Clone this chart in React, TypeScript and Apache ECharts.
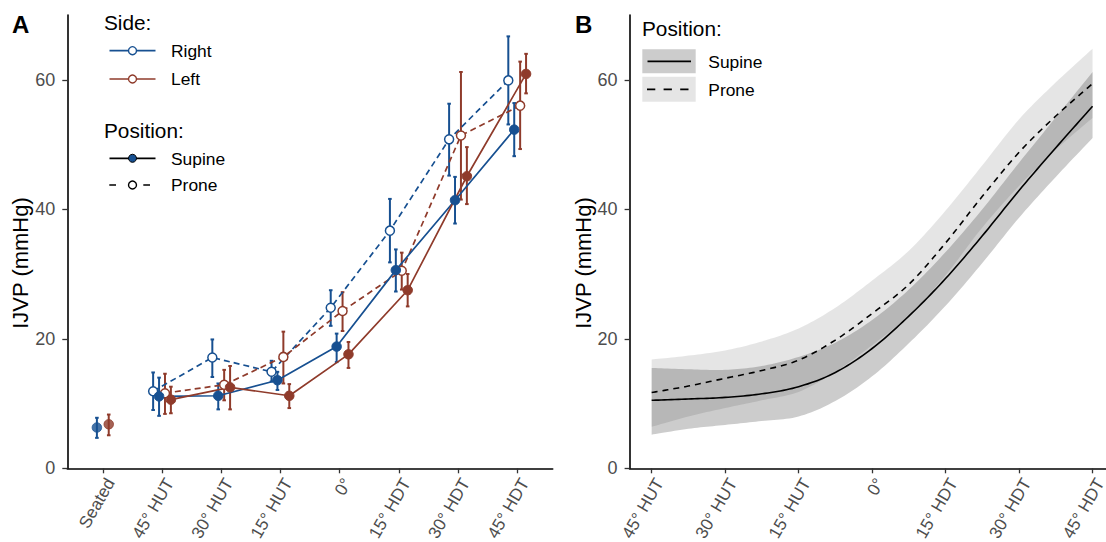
import React, { useEffect, useRef } from "react";
import * as echarts from "echarts";

// ---------- Panel A data ----------
const categoriesA = ["Seated", "45° HUT", "30° HUT", "15° HUT", "0°", "15° HDT", "30° HDT", "45° HDT"];
const yTicks = [0, 20, 40, 60];

const rightSupineMean = [6.3, 11.1, 11.2, 13.6, 18.8, 30.6, 41.4, 52.3];
const rightSupineLow = [4.7, 8.1, 9.1, 12.1, 16.4, 27.3, 37.8, 48.2];
const rightSupineHigh = [7.8, 14.0, 13.1, 14.9, 20.8, 33.8, 45.0, 56.4];

const rightProneMean = [null, 11.9, 17.1, 14.9, 24.8, 36.7, 50.8, 59.9];
const rightProneLow = [null, 9.0, 14.1, 13.4, 22.0, 31.8, 45.2, 53.1];
const rightProneHigh = [null, 14.8, 19.9, 16.6, 27.5, 41.6, 56.3, 66.7];

const leftProneMean = [null, 11.6, 12.9, 17.2, 24.3, 30.5, 51.4, 56.0];
const leftProneLow = [null, 8.4, 10.5, 13.1, 21.2, 27.6, 41.5, 49.3];
const leftProneHigh = [null, 14.6, 15.2, 21.1, 27.2, 33.3, 61.2, 62.8];

const leftSupineMean = [6.8, 10.6, 12.5, 11.2, 17.6, 27.5, 45.1, 60.9];
const leftSupineLow = [5.1, 8.5, 9.1, 9.3, 15.5, 25.0, 40.8, 57.9];
const leftSupineHigh = [8.3, 12.6, 15.8, 13.0, 19.5, 30.0, 49.6, 64.0];

// ---------- Panel B data ----------
const categoriesB = ["45° HUT", "30° HUT", "15° HUT", "0°", "15° HDT", "30° HDT", "45° HDT"];
const fitX = [0, 0.5, 1, 1.5, 2, 2.5, 3, 3.5, 4, 4.5, 5, 5.5, 6];
const supineFit = [10.5, 10.7, 10.95, 11.5, 12.6, 14.8, 18.5, 23.5, 29.3, 35.9, 42.9, 49.5, 55.9];
const supineLower = [5.2, 6.1, 6.7, 7.3, 8.0, 10.4, 14.2, 19.3, 25.1, 31.7, 38.7, 45.0, 51.0];
const supineUpper = [15.5, 15.3, 15.2, 15.8, 17.2, 19.4, 22.9, 27.6, 33.4, 40.0, 47.2, 54.2, 61.2];
const proneFit = [11.7, 12.7, 13.9, 15.1, 16.7, 19.8, 23.9, 28.4, 34.8, 42.0, 48.8, 54.4, 59.4];
const proneLower = [6.4, 8.0, 9.3, 10.5, 11.8, 14.9, 19.0, 23.6, 29.8, 37.2, 43.6, 49.2, 54.1];
const proneUpper = [16.8, 17.4, 18.2, 19.6, 21.6, 24.8, 29.0, 33.6, 39.8, 46.8, 53.9, 59.6, 64.8];

// ---------- styling ----------
const BLUE = "#175091";
const RED = "#8f3b2b";
const FONT = "'Liberation Sans', Arial, Helvetica, sans-serif";
const TICK_COLOR = "#4d4d4d";
const DODGE = { rightProne: -0.15, rightSupine: -0.05, leftProne: 0.05, leftSupine: 0.15 };
const DODGE_SEATED = { right: -0.1, left: 0.1 };
const SUPINE_FILL = "rgba(0,0,0,0.2)";
const PRONE_FILL = "rgba(0,0,0,0.1)";

function linePoints(means: (number | null)[], offset: number) {
  const out: number[][] = [];
  means.forEach((m, i) => {
    if (i >= 1 && m != null) out.push([i + offset, m]);
  });
  return out;
}
function barPoints(means: (number | null)[], lo: (number | null)[], hi: (number | null)[], offset: number, seatedOffset: number | null) {
  const out: number[][] = [];
  means.forEach((m, i) => {
    if (m == null) return;
    if (i === 0) {
      if (seatedOffset == null) return;
      out.push([i + seatedOffset, lo[i] as number, hi[i] as number]);
    } else out.push([i + offset, lo[i] as number, hi[i] as number]);
  });
  return out;
}

function errorBarSeries(data: number[][], color: string) {
  return {
    type: "custom",
    xAxisIndex: 0,
    yAxisIndex: 0,
    silent: true,
    z: 2,
    encode: { x: 0, y: [1, 2] },
    data,
    renderItem: (params: any, api: any) => {
      const x = api.value(0);
      const a = api.coord([x, api.value(1)]);
      const b = api.coord([x, api.value(2)]);
      const c = 1.8;
      const st = { stroke: color, lineWidth: 2 };
      return {
        type: "group",
        children: [
          { type: "line", shape: { x1: a[0], y1: a[1], x2: b[0], y2: b[1] }, style: st },
          { type: "line", shape: { x1: a[0] - c, y1: a[1], x2: a[0] + c, y2: a[1] }, style: st },
          { type: "line", shape: { x1: b[0] - c, y1: b[1], x2: b[0] + c, y2: b[1] }, style: st },
        ],
      };
    },
  };
}

function meanSeries(data: number[][], color: string, prone: boolean) {
  return {
    type: "line",
    xAxisIndex: 0,
    yAxisIndex: 0,
    data,
    silent: true,
    z: 3,
    symbol: "circle",
    symbolSize: prone ? 9 : 9.5,
    showSymbol: true,
    lineStyle: { color, width: 1.7, type: prone ? [6, 4] : "solid" },
    itemStyle: { color: prone ? "#ffffff" : color, borderColor: color, borderWidth: prone ? 1.5 : 1 },
  };
}

// Catmull-Rom smoothing of pixel points (rendering only)
function spline(p: number[][]) {
  const out: number[][] = [];
  const n = p.length;
  const steps = 12;
  for (let i = 0; i < n - 1; i++) {
    const p0 = p[Math.max(i - 1, 0)];
    const p1 = p[i];
    const p2 = p[i + 1];
    const p3 = p[Math.min(i + 2, n - 1)];
    for (let s = 0; s < steps; s++) {
      const t = s / steps;
      const t2 = t * t;
      const t3 = t2 * t;
      const f = (k: number) =>
        0.5 *
        (2 * p1[k] +
          (-p0[k] + p2[k]) * t +
          (2 * p0[k] - 5 * p1[k] + 4 * p2[k] - p3[k]) * t2 +
          (-p0[k] + 3 * p1[k] - 3 * p2[k] + p3[k]) * t3);
      out.push([f(0), f(1)]);
    }
  }
  out.push(p[n - 1]);
  return out;
}

function bandSeries(lower: number[], upper: number[], fill: string) {
  const data = fitX.map((x, i) => [x, lower[i], upper[i]]);
  return {
    type: "custom",
    xAxisIndex: 1,
    yAxisIndex: 1,
    silent: true,
    z: 1,
    encode: { x: 0, y: [1, 2] },
    data,
    renderItem: (params: any, api: any) => {
      if (params.dataIndex !== 0) return null;
      const up: number[][] = [];
      const lo: number[][] = [];
      for (let i = 0; i < data.length; i++) {
        const x = api.value(0, i);
        lo.push(api.coord([x, api.value(1, i)]));
        up.push(api.coord([x, api.value(2, i)]));
      }
      const pts = spline(up).concat(spline(lo).reverse());
      return { type: "polygon", shape: { points: pts }, style: { fill } };
    },
  };
}

function fitLineSeries(values: number[], dash: number[] | null) {
  const data = fitX.map((x, i) => [x, values[i]]);
  return {
    type: "custom",
    xAxisIndex: 1,
    yAxisIndex: 1,
    silent: true,
    z: 3,
    encode: { x: 0, y: 1 },
    data,
    renderItem: (params: any, api: any) => {
      if (params.dataIndex !== 0) return null;
      const pts: number[][] = [];
      for (let i = 0; i < data.length; i++) pts.push(api.coord([api.value(0, i), api.value(1, i)]));
      return {
        type: "polyline",
        shape: { points: spline(pts) },
        style: { stroke: "#000", lineWidth: 1.6, fill: "none", lineDash: dash || undefined },
      };
    },
  };
}

function axisX(gridIndex: number, min: number, max: number, labels: string[]) {
  const vals = labels.map((_, i) => i);
  return {
    type: "value",
    gridIndex,
    min,
    max,
    axisLine: { show: true, onZero: false, lineStyle: { color: "#000", width: 1.6 } },
    axisTick: { show: true, length: 5, customValues: vals, lineStyle: { color: "#333", width: 1.3 } },
    axisLabel: {
      customValues: vals,
      formatter: (v: number) => labels[Math.round(v)],
      rotate: 60,
      margin: 7,
      verticalAlign: "top",
      fontSize: 17.2,
      fontFamily: FONT,
      color: TICK_COLOR,
    },
    splitLine: { show: false },
  };
}
function axisY(gridIndex: number) {
  return {
    type: "value",
    gridIndex,
    min: 0,
    max: 70,
    axisLine: { show: true, onZero: false, lineStyle: { color: "#000", width: 1.6 } },
    axisTick: { show: true, length: 5, customValues: yTicks, lineStyle: { color: "#333", width: 1.3 } },
    axisLabel: { customValues: yTicks, margin: 12, fontSize: 18, fontFamily: FONT, color: TICK_COLOR },
    splitLine: { show: false },
  };
}

function txt(text: string, x: number, y: number, size: number, extra: any = {}) {
  return {
    type: "text",
    x,
    y,
    silent: true,
    z: 10,
    ...extra,
    style: { text, fontSize: size, fontFamily: FONT, fill: "#000", align: "left", verticalAlign: "middle", ...(extra.style || {}) },
  };
}
function hline(x1: number, x2: number, y: number, color: string, dash?: number[]) {
  return {
    type: "line",
    silent: true,
    z: 10,
    shape: { x1, y1: y, x2, y2: y },
    style: { stroke: color, lineWidth: 1.7, lineDash: dash },
  };
}
function dot(cx: number, cy: number, fill: string, stroke: string, lw = 1.4) {
  return { type: "circle", silent: true, z: 11, shape: { cx, cy, r: 4 }, style: { fill, stroke, lineWidth: lw } };
}

export default function App() {
  const ref = useRef<HTMLDivElement>(null);
  useEffect(() => {
    if (!ref.current) return;
    const chart = echarts.init(ref.current, null, { renderer: "svg" });

    const seatedRight = [[0 + DODGE_SEATED.right, rightSupineMean[0]]];
    const seatedLeft = [[0 + DODGE_SEATED.left, leftSupineMean[0]]];

    const option: any = {
      animation: false,
      backgroundColor: "#ffffff",
      grid: [
        { left: 67.3, top: 15, width: 485.4, height: 453.3, outerBoundsMode: "none", containLabel: false },
        { left: 629.6, top: 15, width: 485, height: 453.3, outerBoundsMode: "none", containLabel: false },
      ],
      xAxis: [axisX(0, -0.6, 7.6, categoriesA), axisX(1, -0.3, 6.3, categoriesB)],
      yAxis: [axisY(0), axisY(1)],
      series: [
        errorBarSeries(barPoints(rightProneMean, rightProneLow, rightProneHigh, DODGE.rightProne, null), BLUE),
        errorBarSeries(barPoints(rightSupineMean, rightSupineLow, rightSupineHigh, DODGE.rightSupine, DODGE_SEATED.right), BLUE),
        errorBarSeries(barPoints(leftProneMean, leftProneLow, leftProneHigh, DODGE.leftProne, null), RED),
        errorBarSeries(barPoints(leftSupineMean, leftSupineLow, leftSupineHigh, DODGE.leftSupine, DODGE_SEATED.left), RED),
        meanSeries(linePoints(rightProneMean, DODGE.rightProne), BLUE, true),
        meanSeries(linePoints(leftProneMean, DODGE.leftProne), RED, true),
        meanSeries(linePoints(rightSupineMean, DODGE.rightSupine), BLUE, false),
        meanSeries(linePoints(leftSupineMean, DODGE.leftSupine), RED, false),
        { ...meanSeries(seatedRight as number[][], BLUE, false), type: "scatter" },
        { ...meanSeries(seatedLeft as number[][], RED, false), type: "scatter" },
        bandSeries(supineLower, supineUpper, SUPINE_FILL),
        bandSeries(proneLower, proneUpper, PRONE_FILL),
        fitLineSeries(supineFit, null),
        fitLineSeries(proneFit, [6, 5]),
      ],
      graphic: [
        txt("A", 12, 24, 24, { style: { fontWeight: "bold" } }),
        txt("B", 575, 24, 24, { style: { fontWeight: "bold" } }),
        txt("IJVP (mmHg)", 20.5, 263, 22, { rotation: Math.PI / 2, style: { align: "center" } }),
        txt("IJVP (mmHg)", 583, 263, 22, { rotation: Math.PI / 2, style: { align: "center" } }),
        // Panel A legend
        txt("Side:", 104, 22, 20.8),
        hline(109.5, 155.5, 50.7, BLUE),
        dot(132.5, 50.7, "#fff", BLUE),
        txt("Right", 171, 51, 17.4),
        hline(109.5, 155.5, 79, RED),
        dot(132.5, 79, "#fff", RED),
        txt("Left", 171, 79.3, 17.4),
        txt("Position:", 104, 130, 20.8),
        hline(109.5, 155.5, 158.3, "#000"),
        dot(132.5, 158.3, BLUE, "#000", 1),
        txt("Supine", 171, 158.6, 17.4),
        hline(109.3, 155.5, 185, "#000", [6.7, 27.3]),
        dot(132.5, 185, "#fff", "#000"),
        txt("Prone", 171, 185.3, 17.4),
        // Panel B legend
        txt("Position:", 642, 28, 20.8),
        { type: "rect", silent: true, z: 9, shape: { x: 642.3, y: 49.3, width: 53.4, height: 24 }, style: { fill: SUPINE_FILL } },
        hline(647.5, 691, 61.3, "#000"),
        txt("Supine", 708.3, 61.5, 17.4),
        { type: "rect", silent: true, z: 9, shape: { x: 642.3, y: 76.7, width: 53.4, height: 25 }, style: { fill: PRONE_FILL } },
        hline(647, 691, 89.3, "#000", [8.3, 8.3]),
        txt("Prone", 708.3, 89.5, 17.4),
      ],
    };
    chart.setOption(option);
    return () => chart.dispose();
  }, []);
  return (
    <div
      ref={ref}
      style={{ position: "fixed", left: 0, top: 0, width: 1106, height: 542, background: "#fff" }}
    />
  );
}
